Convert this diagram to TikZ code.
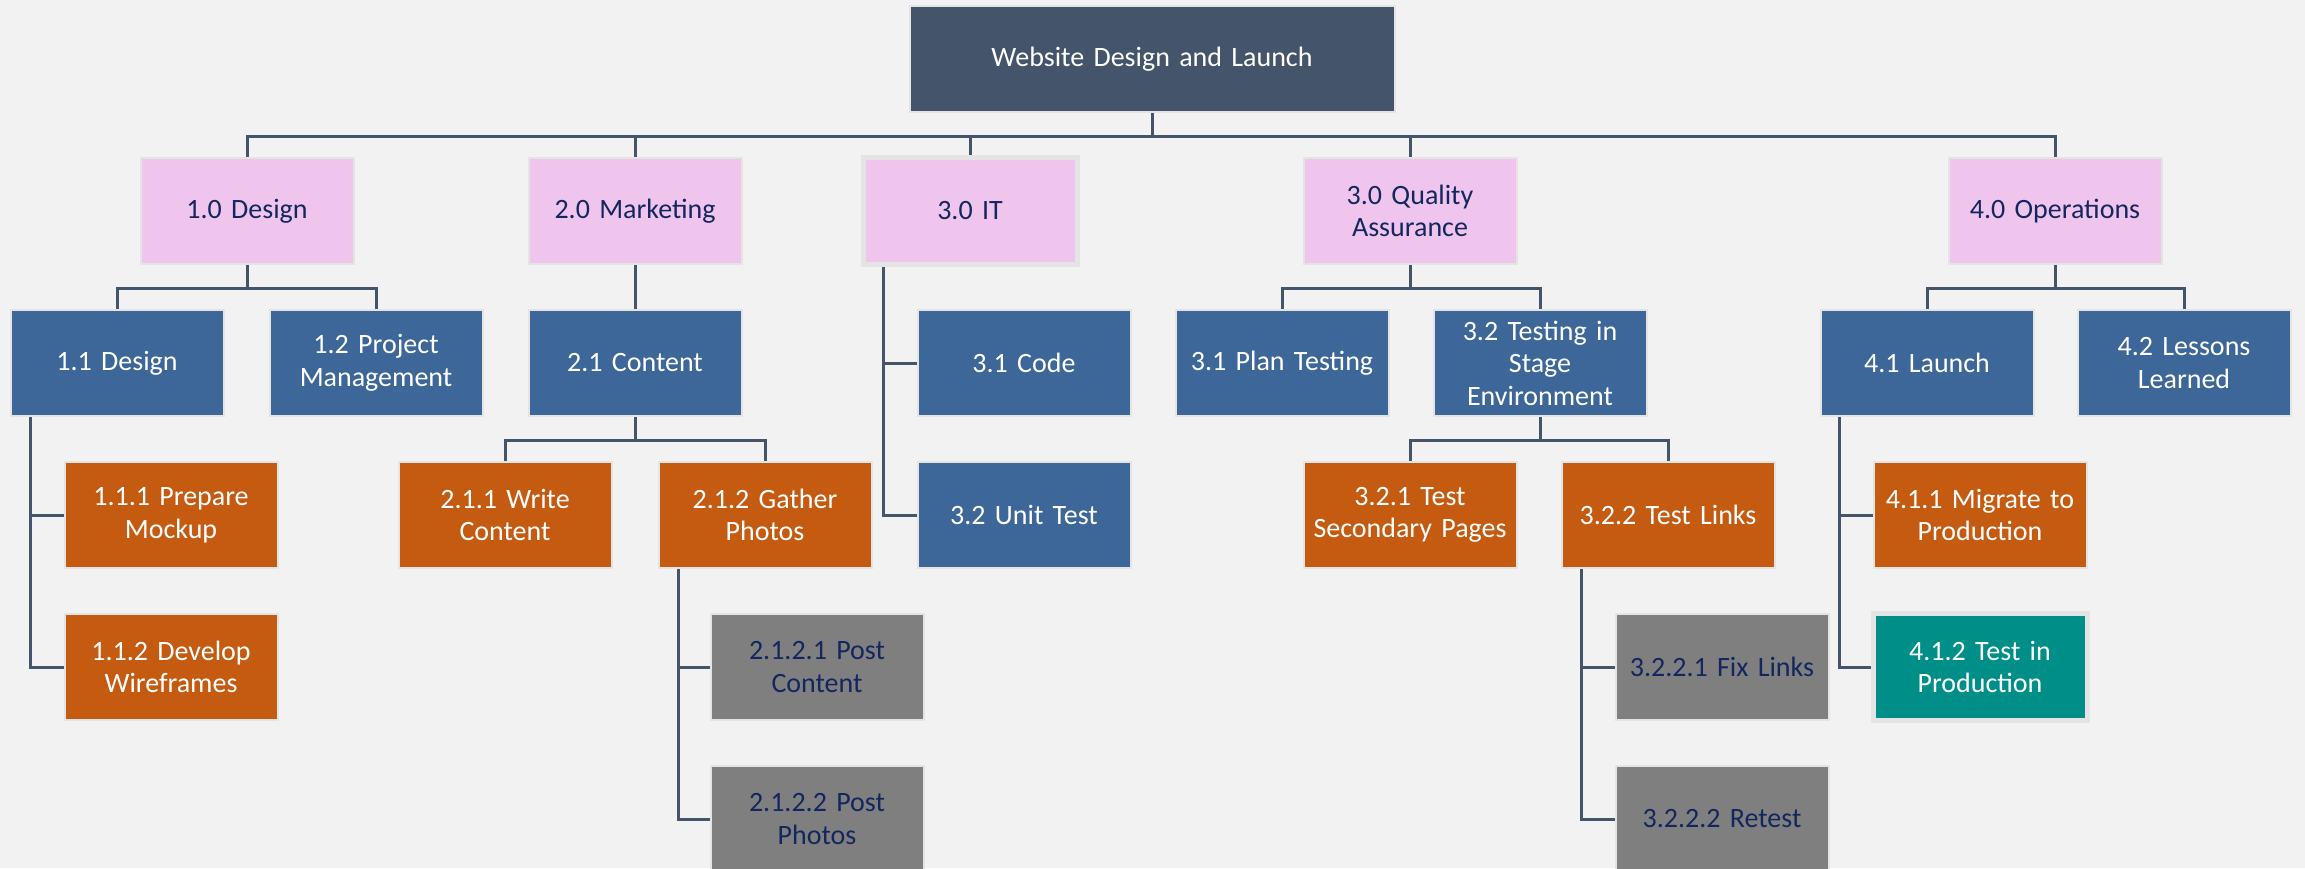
\documentclass[tikz,border=0pt]{standalone}
\usepackage{fontspec}
\setmainfont{Carlito}
\usetikzlibrary{shapes,arrows}

\definecolor{wbs_bg}{HTML}{F2F2F2}
\definecolor{wbs_frame}{HTML}{E4E4E4}
\definecolor{wbs_root}{HTML}{44546A}
\definecolor{wbs_pink}{HTML}{EFC5EE}
\definecolor{wbs_blue}{HTML}{3D6699}
\definecolor{wbs_orange}{HTML}{C55A11}
\definecolor{wbs_gray}{HTML}{7F7F7F}
\definecolor{wbs_teal}{HTML}{008E89}
\definecolor{wbs_navy}{HTML}{13275E}
\definecolor{wbs_line}{HTML}{44546A}

\begin{document}
\begin{tikzpicture}[x=0.5pt, y=-0.5pt,
      block_base/.style ={rectangle, draw=wbs_frame, line width=1pt,
        text width=100pt, align=center, inner sep=2pt,
        minimum width=106.5pt, minimum height=53pt,
        font=\fontsize{14pt}{16.25pt}\selectfont},
      block_root/.style ={block_base, fill=wbs_root, text=white,
        minimum width=242.5pt, text width=230pt},
      block_phase/.style ={block_base, fill=wbs_pink, text=wbs_navy},
      block_task/.style ={block_base, fill=wbs_blue, text=white},
      block_sub/.style ={block_base, fill=wbs_orange, text=white},
      block_leaf/.style ={block_base, fill=wbs_gray, text=wbs_navy},
      block_wide/.style ={line width=2.5pt, minimum width=107pt,
        minimum height=53.5pt},
      line/.style ={draw, line width=1.5pt, color=wbs_line}]
    %
    \useasboundingbox (0,0) rectangle (2305,868);
    \fill [wbs_bg] (0,0) rectangle (2305,868);
    %
    % 1. placing the boxes
    % top - row 0
    \node [block_root] (root) at (1152,59) {Website Design and Launch};
    % phases - row 1
    \node [block_phase] (design) at (247,211) {1.0 Design};
    \node [block_phase] (marketing) at (635,211) {2.0 Marketing};
    \node [block_phase, block_wide] (it) at (970,211) {3.0 IT};
    \node [block_phase] (qa) at (1410,211) {3.0 Quality\\Assurance};
    \node [block_phase] (ops) at (2055,211) {4.0 Operations};
    % tasks - row 2
    \node [block_task] (d_11) at (117,363) {1.1 Design};
    \node [block_task] (d_12) at (376,363) {1.2 Project\\Management};
    \node [block_task] (m_21) at (635,363) {2.1 Content};
    \node [block_task] (it_31) at (1024,363) {3.1 Code};
    \node [block_task] (qa_31) at (1282,363) {3.1 Plan Testing};
    \node [block_task] (qa_32) at (1540,363) {3.2 Testing in\\Stage\\Environment};
    \node [block_task] (op_41) at (1927,363) {4.1 Launch};
    \node [block_task] (op_42) at (2184,363) {4.2 Lessons\\Learned};
    % sub tasks - row 3
    \node [block_sub] (d_111) at (171,515) {1.1.1 Prepare\\Mockup};
    \node [block_sub] (m_211) at (505,515) {2.1.1 Write\\Content};
    \node [block_sub] (m_212) at (765,515) {2.1.2 Gather\\Photos};
    \node [block_task] (it_32) at (1024,515) {3.2 Unit Test};
    \node [block_sub] (qa_321) at (1410,515) {3.2.1 Test\\Secondary Pages};
    \node [block_sub] (qa_322) at (1668,515) {3.2.2 Test Links};
    \node [block_sub] (op_411) at (1980,515) {4.1.1 Migrate to\\Production};
    % row 4
    \node [block_sub] (d_112) at (171,667) {1.1.2 Develop\\Wireframes};
    \node [block_leaf] (m_2121) at (817,667) {2.1.2.1 Post\\Content};
    \node [block_leaf] (qa_3221) at (1722,667) {3.2.2.1 Fix Links};
    \node [block_base, block_wide, fill=wbs_teal, text=white] (op_412) at (1980,667) {4.1.2 Test in\\Production};
    % row 5
    \node [block_leaf] (m_2122) at (817,819) {2.1.2.2 Post\\Photos};
    \node [block_leaf] (qa_3222) at (1722,819) {3.2.2.2 Retest};
    %
    % 2. connecting nodes with paths
    \begin{scope}[every path/.style=line]
      % root to phases
      \path (root.south) -- ++(0,23) -| (design.north);
      \path (root.south) -- ++(0,23) -| (marketing.north);
      \path (root.south) -- ++(0,23) -| (it.north);
      \path (root.south) -- ++(0,23) -| (qa.north);
      \path (root.south) -- ++(0,23) -| (ops.north);
      % design
      \path (design.south) -- ++(0,23) -| (d_11.north);
      \path (design.south) -- ++(0,23) -| (d_12.north);
      \path ([xshift=10.5pt]d_11.south west) |- (d_111.west);
      \path ([xshift=10.5pt]d_11.south west) |- (d_112.west);
      % marketing
      \path (marketing) -- (m_21);
      \path (m_21.south) -- ++(0,23) -| (m_211.north);
      \path (m_21.south) -- ++(0,23) -| (m_212.north);
      \path ([xshift=10.5pt]m_212.south west) |- (m_2121.west);
      \path ([xshift=10.5pt]m_212.south west) |- (m_2122.west);
      % it
      \path ([xshift=11.5pt]it.south west) |- (it_31.west);
      \path ([xshift=11.5pt]it.south west) |- (it_32.west);
      % quality assurance
      \path (qa.south) -- ++(0,23) -| (qa_31.north);
      \path (qa.south) -- ++(0,23) -| (qa_32.north);
      \path (qa_32.south) -- ++(0,23) -| (qa_321.north);
      \path (qa_32.south) -- ++(0,23) -| (qa_322.north);
      \path ([xshift=10.5pt]qa_322.south west) |- (qa_3221.west);
      \path ([xshift=10.5pt]qa_322.south west) |- (qa_3222.west);
      % operations
      \path (ops.south) -- ++(0,23) -| (op_41.north);
      \path (ops.south) -- ++(0,23) -| (op_42.north);
      \path ([xshift=10pt]op_41.south west) |- (op_411.west);
      \path ([xshift=10pt]op_41.south west) |- (op_412.west);
    \end{scope}
  \end{tikzpicture}
\end{document}
